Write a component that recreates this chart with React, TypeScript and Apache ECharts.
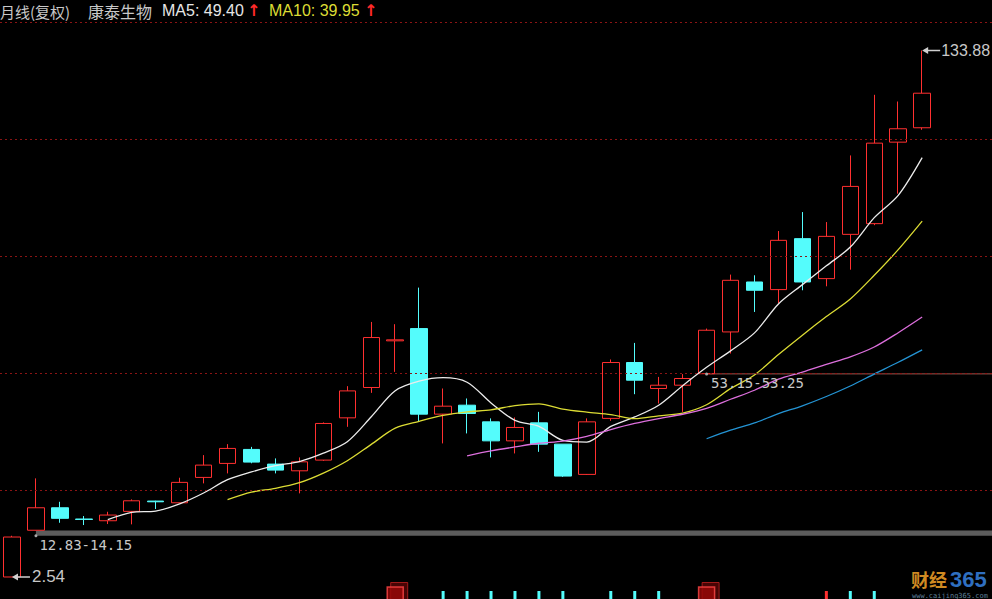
import React, { useEffect, useRef } from "react";
import * as echarts from "echarts";

// ---- data (monthly, forward-adjusted) ----
const months = [
  "2017-02","2017-03","2017-04","2017-05","2017-06","2017-07","2017-08","2017-09","2017-10","2017-11","2017-12",
  "2018-01","2018-02","2018-03","2018-04","2018-05","2018-06","2018-07","2018-08","2018-09","2018-10","2018-11","2018-12",
  "2019-01","2019-02","2019-03","2019-04","2019-05","2019-06","2019-07","2019-08","2019-09","2019-10","2019-11","2019-12",
  "2020-01","2020-02","2020-03","2020-04",
];
const padMonths = ["2020-05", "2020-06", "2020-07"];

const opens = [2.54,14.2,19.81,17.0,16.57,18.91,21.48,21.05,27.38,30.87,34.36,30.7,29.03,31.7,42.24,49.81,61.45,64.51,43.16,45.4,41.24,36.5,40.99,35.68,28.13,42.1,56.04,49.56,50.38,53.25,63.67,76.13,74.23,86.94,76.97,88.01,90.68,111.01,114.6];
const closes = [12.51,19.81,17.17,16.9,17.99,21.55,21.3,26.14,30.45,34.61,31.2,29.2,31.27,40.84,48.96,62.27,61.7,43.16,45.15,43.33,36.5,39.84,35.68,27.71,41.24,56.04,51.63,50.38,52.05,64.09,76.55,74.06,86.52,76.13,87.51,99.97,110.76,114.35,123.22];
const lows = [2.54,14.15,16.07,15.5,15.75,15.67,19.5,21.0,25.89,28.38,30.9,28.38,23.4,31.5,40.0,48.47,53.7,41.24,35.86,38.35,32.37,33.36,33.76,27.5,28.0,41.5,48.14,45.82,43.73,53.25,58.28,68.65,70.89,74.06,75.05,79.2,90.3,98.16,114.1];
const highs = [12.83,27.14,21.3,17.74,18.81,21.9,21.55,27.3,32.94,35.68,35.0,32.12,32.37,41.1,50.14,66.16,65.6,74.73,49.56,47.07,42.1,42.34,43.73,35.68,42.1,56.8,60.93,52.45,53.15,64.51,77.97,77.8,88.84,93.57,91.08,107.7,122.82,121.15,133.88];

const gridLevels = [24.1, 53.28, 82.47, 111.66, 140.85];
const gapLow = [12.83, 14.15];
const gapHigh = [53.15, 53.25];
const maPeriods = [5, 10, 20, 30];
const headerMA5 = "MA5: 49.40";
const headerMA10 = "MA10: 39.95";

// lower panel markers (only tops visible)
const lowerTickIdx = [18, 19, 20, 21, 22, 23, 25, 26, 27, 34, 35, 36];
const lowerTickUp = [false, false, false, false, false, false, false, false, false, true, false, false];
const infoIconIdx = [16, 29];

// ---- styles ----
const RED = "#ff3030";
const CYAN = "#54fcfc";
const MA_COLORS = ["#ececec", "#dcdc34", "#dd6fdd", "#2494d4"];
const PRICE_MIN = -2.95;
const PRICE_MAX = 146.47;
const ARROW = "path://M0,3.5 L6,0 L6,2.7 L18,2.7 L18,4.3 L6,4.3 L6,7 Z";

function movingAverage(values: number[], n: number) {
  return values.map((_, i) => {
    if (i < n - 1) return null;
    let s = 0;
    for (let j = i - n + 1; j <= i; j++) s += values[j];
    return +(s / n).toFixed(3);
  });
}

export default function App() {
  const ref = useRef<HTMLDivElement>(null);
  useEffect(() => {
    document.body.style.margin = "0";
    document.body.style.background = "#000";
    document.body.style.overflow = "hidden";
    document.documentElement.style.overflow = "hidden";
    const chart = echarts.init(ref.current!, undefined, { renderer: "svg" });
    const cats = months.concat(padMonths);
    const candleData = months.map((_, i) => [opens[i], closes[i], lows[i], highs[i]]);
    const lowerData = months.map((_, i) => {
      const k = lowerTickIdx.indexOf(i);
      if (k < 0) return null;
      return { value: 1, itemStyle: { color: lowerTickUp[k] ? RED : CYAN } };
    });
    const iconData = infoIconIdx.map((i) => [i, 0.75]);

    const labelCommon = {
      show: true,
      position: "right" as const,
      color: "#c8c8c8",
    };

    const option: any = {
      animation: false,
      backgroundColor: "#000",
      grid: [
        { left: -2, top: 0, width: 1008, height: 599 },
        { left: -2, top: 591, width: 1008, height: 8 },
      ],
      xAxis: [
        { type: "category", data: cats, gridIndex: 0, show: false, boundaryGap: true },
        { type: "category", data: cats, gridIndex: 1, show: false, boundaryGap: true },
      ],
      yAxis: [
        { type: "value", gridIndex: 0, min: PRICE_MIN, max: PRICE_MAX, show: false },
        { type: "value", gridIndex: 1, min: 0, max: 1, show: false },
      ],
      series: [
        {
          name: "levels",
          type: "line",
          data: [],
          z: 1,
          silent: true,
          markLine: {
            silent: true,
            symbol: ["none", "none"],
            label: { show: false },
            lineStyle: { color: "#8a1414", type: [2, 3], width: 1 },
            data: gridLevels.map((v) => ({ yAxis: v })),
          },
          markArea: {
            silent: true,
            label: { show: false },
            data: [
              [
                { xAxis: 1, yAxis: gapLow[0], itemStyle: { color: "#5c5c5c" } },
                { xAxis: cats.length - 1, yAxis: gapLow[1] },
              ],
              [
                { xAxis: 29, yAxis: gapHigh[0], itemStyle: { color: "#8a5048", borderColor: "#8a5048", borderWidth: 0.6 } },
                { xAxis: cats.length - 1, yAxis: gapHigh[1] },
              ],
            ],
          },
        },
        {
          name: "K",
          type: "candlestick",
          data: candleData,
          barWidth: 17,
          z: 3,
          itemStyle: {
            color: "rgba(0,0,0,0)",
            color0: CYAN,
            borderColor: RED,
            borderColor0: CYAN,
            borderWidth: 1,
          },
          markPoint: {
            silent: true,
            data: [
              {
                coord: [38, highs[38]],
                symbol: ARROW,
                symbolSize: [18, 7],
                symbolOffset: [9, 0],
                itemStyle: { color: "#d0d0d0" },
                label: { ...labelCommon, distance: 1, formatter: String(highs[38].toFixed(2)), fontFamily: "Liberation Sans, Arial, sans-serif", fontSize: 16 },
              },
              {
                coord: [0, lows[0]],
                symbol: ARROW,
                symbolSize: [18, 7],
                symbolOffset: [9, 0],
                itemStyle: { color: "#d0d0d0" },
                label: { ...labelCommon, distance: 2, formatter: String(lows[0].toFixed(2)), fontFamily: "Liberation Sans, Arial, sans-serif", fontSize: 17 },
              },
              {
                coord: [1, gapLow[0]],
                symbol: "circle",
                symbolSize: 3,
                itemStyle: { color: "#a8a8a8" },
                label: { ...labelCommon, offset: [-3, 9], formatter: `${gapLow[0].toFixed(2)}-${gapLow[1].toFixed(2)}`, fontFamily: "DejaVu Sans Mono, monospace", fontSize: 14 },
              },
              {
                coord: [29, gapHigh[0]],
                symbol: "circle",
                symbolSize: 3,
                itemStyle: { color: "#a8a8a8" },
                label: { ...labelCommon, offset: [-2, 9], formatter: `${gapHigh[0].toFixed(2)}-${gapHigh[1].toFixed(2)}`, fontFamily: "DejaVu Sans Mono, monospace", fontSize: 14 },
              },
            ],
          },
        },
        ...maPeriods.map((p, k) => ({
          name: "MA" + p,
          type: "line",
          data: movingAverage(closes, p),
          showSymbol: false,
          smooth: 0.3,
          z: 4,
          silent: true,
          lineStyle: { color: MA_COLORS[k], width: 1.3 },
        })),
        {
          name: "lower",
          type: "bar",
          xAxisIndex: 1,
          yAxisIndex: 1,
          barWidth: 3,
          data: lowerData,
          silent: true,
        },
        {
          name: "iconBack",
          type: "scatter",
          xAxisIndex: 1,
          yAxisIndex: 1,
          clip: false,
          data: iconData,
          symbol: "rect",
          symbolSize: [17, 17],
          symbolOffset: [4, -2],
          z: 5,
          silent: true,
          itemStyle: { color: "#5a0606", borderColor: "#c02020", borderWidth: 1 },
        },
        {
          name: "iconFront",
          type: "scatter",
          xAxisIndex: 1,
          yAxisIndex: 1,
          clip: false,
          data: iconData,
          symbol: "rect",
          symbolSize: [16, 16],
          symbolOffset: [0, 2],
          z: 6,
          silent: true,
          itemStyle: { color: "#9a0808", borderColor: "#ff4848", borderWidth: 1.5 },
        },
      ],
      graphic: [
        { type: "text", x: 0, y: 11, style: { text: "月线(复权)", fill: "#c8c8c8", font: '15px "Noto Sans CJK SC"', lineHeight: 16, verticalAlign: "middle" } },
        { type: "text", x: 88, y: 11, style: { text: "康泰生物", fill: "#c8c8c8", font: '16px "Noto Sans CJK SC"', lineHeight: 16, verticalAlign: "middle" } },
        { type: "text", x: 162, y: 10, style: { text: headerMA5, fill: "#e6e6e6", font: '16px "Liberation Sans", Arial, sans-serif', lineHeight: 17, verticalAlign: "middle" } },
        { type: "text", x: 247, y: 10, style: { text: "↑", fill: "#ff2a2a", font: 'bold 16px "DejaVu Sans"', lineHeight: 17, verticalAlign: "middle" } },
        { type: "text", x: 269, y: 10, style: { text: headerMA10, fill: "#dcdc34", font: '16px "Liberation Sans", Arial, sans-serif', lineHeight: 17, verticalAlign: "middle" } },
        { type: "text", x: 364, y: 10, style: { text: "↑", fill: "#ff2a2a", font: 'bold 16px "DejaVu Sans"', lineHeight: 17, verticalAlign: "middle" } },
        { type: "text", x: 911, y: 579, style: { text: "财经", fill: "#d08a22", font: 'bold 18px "Noto Sans CJK SC"', lineHeight: 17, verticalAlign: "middle" } },
        { type: "text", x: 950, y: 579, style: { text: "365", fill: "#2f6fc0", font: 'bold 22px "Liberation Sans", Arial, sans-serif', lineHeight: 17, verticalAlign: "middle" } },
        { type: "text", x: 912, y: 596, style: { text: "www.caijing365.com", fill: "#5d7f98", font: '7px "DejaVu Sans Mono"', lineHeight: 6, verticalAlign: "middle" } },
      ],
    };
    chart.setOption(option);
    return () => chart.dispose();
  }, []);
  return (
    <div style={{ width: 992, height: 599, overflow: "hidden", background: "#000" }}>
      <div ref={ref} style={{ width: 1008, height: 599 }} />
    </div>
  );
}
